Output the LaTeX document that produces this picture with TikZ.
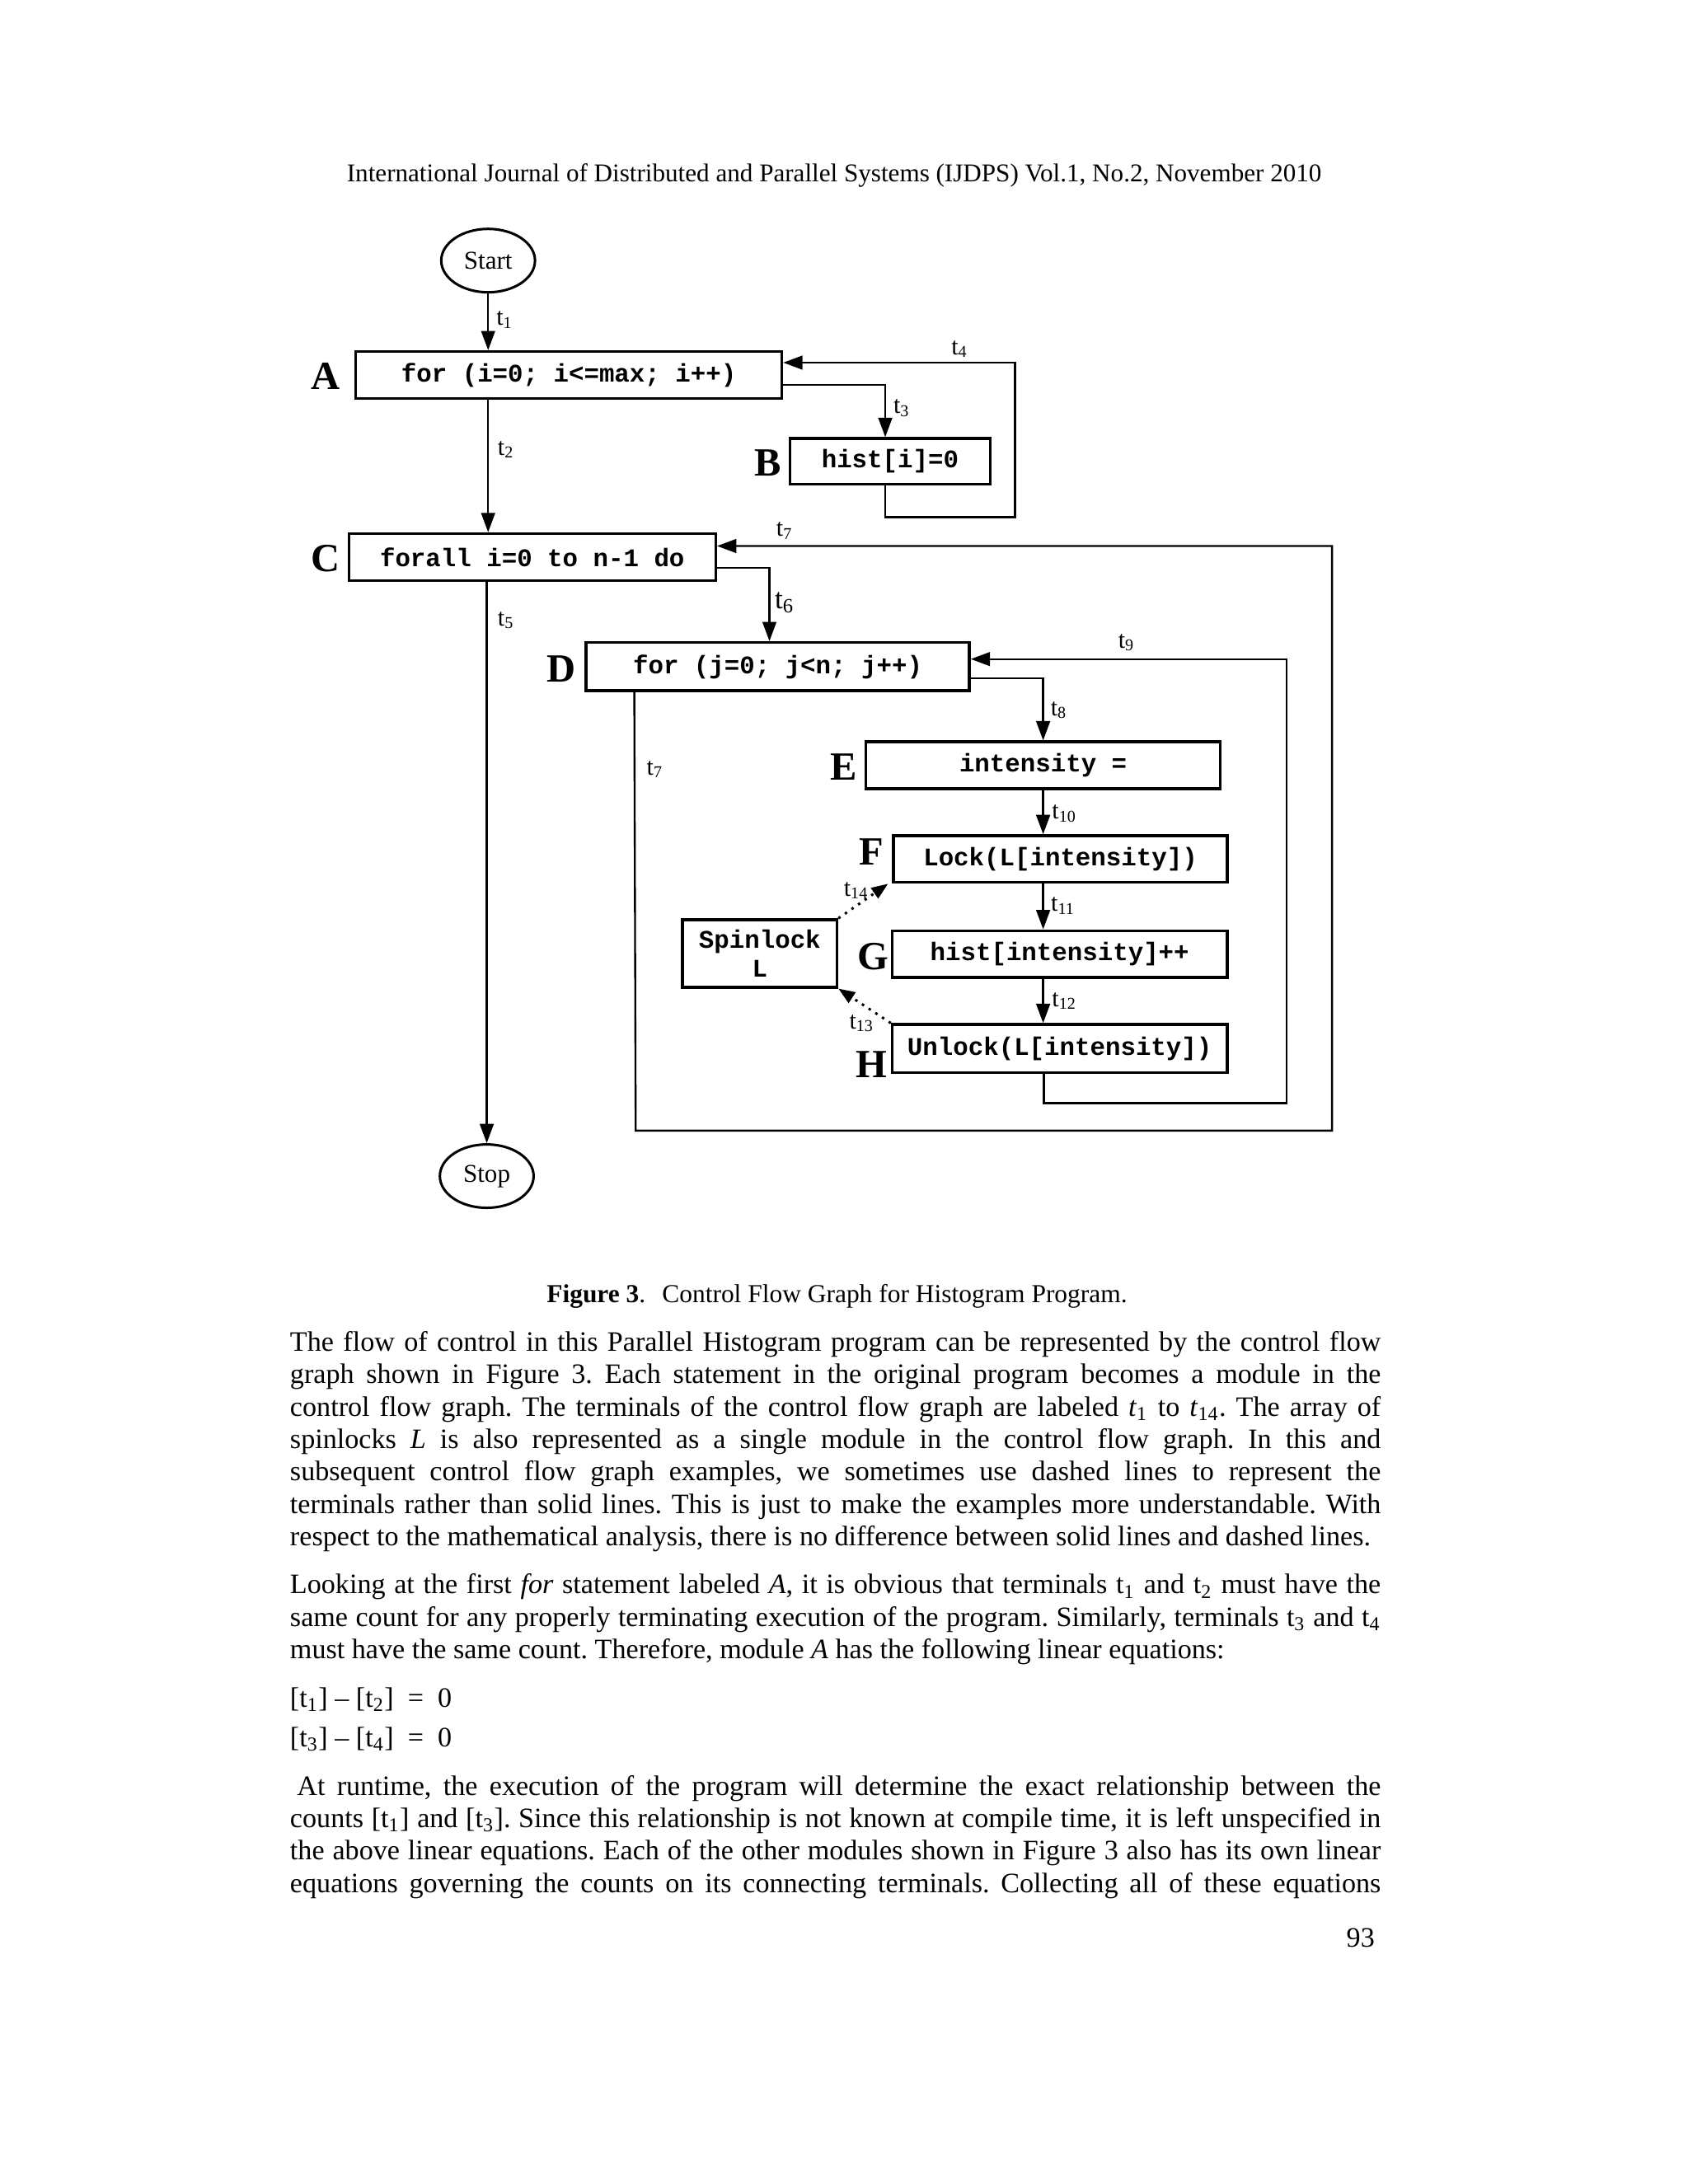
\documentclass[tikz,border=0pt]{standalone}
\usepackage{fontspec}
\setmainfont{Liberation Serif}
\setmonofont{Liberation Mono}
\usetikzlibrary{arrows.meta,shapes.geometric}
\newcommand\tsub[1]{t\textsubscript{#1}}
\newcommand\jline[1]{\makebox[395.5pt][s]{#1}}
\frenchspacing

\tikzset{
	box/.style={draw, line width=1pt, inner sep=0pt, font=\fontsize{9.2}{10.5}\selectfont\ttfamily\bfseries},
	term/.style={draw, ellipse, line width=0.9pt, minimum width=34pt, minimum height=23pt, inner sep=0pt, font=\fontsize{9.3}{10}\selectfont},
	flow/.style={line width=0.7pt, -{Triangle[length=7pt,width=5pt]}},
	lockflow/.style={line width=0.9pt, dotted, -{Triangle[length=6pt,width=4.5pt]}},
	tlabel/.style={font=\fontsize{9}{10}\selectfont, inner sep=0pt},
	mlabel/.style={font=\fontsize{14.5}{17}\selectfont\bfseries, inner sep=0pt},
	para/.style={anchor=base west, inner sep=0pt, font=\fontsize{10.2}{11.75}\selectfont},
}

\begin{document}
\begin{tikzpicture}[x=0.5pt, y=-0.5pt]
		%%%%% START %%%%%
		\useasboundingbox (0,0) rectangle (1224,1584);
		
		\node[anchor=base, font=\fontsize{9.3}{12}\selectfont] (header) at (605,132) {International Journal of Distributed and Parallel Systems (IJDPS) Vol.1, No.2, November 2010};
		
		\node[term] (start) at (354,189) {Start};
		\node[term] (stop) at (353,853) {Stop};
		
		\node[box, minimum width=154.5pt, minimum height=17pt] (A) at (412.5,272) {for (i=0; i<=max; i++)};
		\node[box, minimum width=72.5pt, minimum height=16.5pt] (B) at (645.5,334.5) {hist[i]=0};
		\node[box, minimum width=133pt, minimum height=17pt] (C) at (386,404) {forall i=0 to n-1 do};
		\node[box, minimum width=139pt, minimum height=17.5pt] (D) at (564,483.5) {for (j=0; j<n; j++)};
		\node[box, minimum width=128.5pt, minimum height=17pt] (E) at (756.5,555) {intensity =};
		\node[box, minimum width=121pt, minimum height=17pt] (F) at (769,623) {Lock(L[intensity])};
		\node[box, minimum width=121.5pt, minimum height=17pt] (G) at (768.5,692) {hist[intensity]++};
		\node[box, minimum width=121.5pt, minimum height=17.5pt] (H) at (768.5,760.5) {Unlock(L[intensity])};
		\node[box, minimum width=56pt, minimum height=24.5pt, align=center] (spin) at (551,691.5) {Spinlock\\L};
		
		\node[mlabel] (lA) at (236,273) {A};
		\node[mlabel] (lB) at (557,336) {B};
		\node[mlabel] (lC) at (236,405) {C};
		\node[mlabel] (lD) at (407,485) {D};
		\node[mlabel] (lE) at (612,556) {E};
		\node[mlabel] (lF) at (632,618) {F};
		\node[mlabel] (lG) at (633,694) {G};
		\node[mlabel] (lH) at (632,772) {H};
		
		% outer loops
		\coordinate (bret) at (736,375);
		\coordinate (outL) at (461,820);
		\coordinate (outR) at (966,820);
		\coordinate (inL) at (757,800);
		\coordinate (inR) at (933,800);
		
		\draw[flow] (start.south) -- (start.south |- A.north);
		\draw[flow] (A.south -| start) -- (C.north -| start);
		\draw[flow] ([yshift=-3.5pt]A.east) -| ([xshift=-1.75pt]B.north);
		\draw[flow] ([xshift=-1.75pt]B.south) |- (bret) |- ([yshift=4.5pt]A.east);
		\draw[flow] (C.south -| stop) -- (stop.north);
		\draw[flow] ([yshift=-4pt]C.east) -| ([xshift=-3pt]D.north);
		\draw[flow] ([xshift=18pt]D.south west) -- (outL) -- (outR) |- ([yshift=4pt]C.east);
		\draw[flow] ([yshift=-4.25pt]D.east) -| (E.north);
		\draw[flow] ([xshift=-5.75pt]H.south) -- (inL) -- (inR) |- ([yshift=2.75pt]D.east);
		\draw[flow] (E.south) -- (E.south |- F.north);
		\draw[flow] (E.south |- F.south) -- (E.south |- G.north);
		\draw[flow] (E.south |- G.south) -- (E.south |- H.north);
		\draw[lockflow] (spin.north east) -- ([xshift=-1.5pt]F.south west);
		\draw[lockflow] (H.north west) -- (spin.south east);
		
		\node[tlabel] (t1) at (366,232) {\tsub{1}};
		\node[tlabel] (t2) at (367,326) {\tsub{2}};
		\node[tlabel] (t3) at (654,296) {\tsub{3}};
		\node[tlabel] (t4) at (696,253) {\tsub{4}};
		\node[tlabel] (t5) at (367,450) {\tsub{5}};
		\node[tlabel, font=\fontsize{10.5}{12}\selectfont] (t6) at (569,437) {\tsub{6}};
		\node[tlabel] (t7a) at (569,385) {\tsub{7}};
		\node[tlabel] (t7b) at (475,558) {\tsub{7}};
		\node[tlabel] (t8) at (768,515) {\tsub{8}};
		\node[tlabel] (t9) at (817,466) {\tsub{9}};
		\node[tlabel] (t10) at (772,590) {\tsub{10}};
		\node[tlabel] (t11) at (771,657) {\tsub{11}};
		\node[tlabel] (t12) at (772,726) {\tsub{12}};
		\node[tlabel] (t13) at (625,742) {\tsub{13}};
		\node[tlabel] (t14) at (621,646) {\tsub{14}};
		
		\node[anchor=base, font=\fontsize{9.4}{12}\selectfont] (caption) at (607,945) {\textbf{Figure 3}.\hspace{6pt}Control Flow Graph for Histogram Program.};
		
		\node[para] (p1) at (210,980) {\parbox[t]{395.5pt}{%
				\jline{The flow of control in this Parallel Histogram program can be represented by the control flow}\\
				\jline{graph shown in Figure 3. Each statement in the original program becomes a module in the}\\
				\jline{control flow graph. The terminals of the control flow graph are labeled \textit{t}\textsubscript{1} to \textit{t}\textsubscript{14}. The array of}\\
				\jline{spinlocks \textit{L} is also represented as a single module in the control flow graph. In this and}\\
				\jline{subsequent control flow graph examples, we sometimes use dashed lines to represent the}\\
				\jline{terminals rather than solid lines. This is just to make the examples more understandable. With}\\
				respect to the mathematical analysis, there is no difference between solid lines and dashed lines.}};
		
		\node[para] (p2) at (210,1156) {\parbox[t]{395.5pt}{%
				\jline{Looking at the first \textit{for} statement labeled \textit{A}, it is obvious that terminals \tsub{1} and \tsub{2} must have the}\\
				\jline{same count for any properly terminating execution of the program. Similarly, terminals \tsub{3} and \tsub{4}}\\
				must have the same count. Therefore, module \textit{A} has the following linear equations:}};
		
		\node[para] (eq1) at (210,1238) {[\tsub{1}] – [\tsub{2}] \ = \ 0};
		\node[para] (eq2) at (210,1267) {[\tsub{3}] – [\tsub{4}] \ = \ 0};
		
		\node[para] (p3) at (210,1302) {\parbox[t]{395.5pt}{%
				\jline{\hspace{2.5pt}At runtime, the execution of the program will determine the exact relationship between the}\\
				\jline{counts [\tsub{1}] and [\tsub{3}]. Since this relationship is not known at compile time, it is left unspecified in}\\
				\jline{the above linear equations. Each of the other modules shown in Figure 3 also has its own linear}\\
				\jline{equations governing the counts on its connecting terminals. Collecting all of these equations}}};
		
		\node[anchor=base east, font=\fontsize{10.2}{12}\selectfont] (pagenum) at (1004,1412) {93};
		%%%%% END %%%%%
\end{tikzpicture}
\end{document}
